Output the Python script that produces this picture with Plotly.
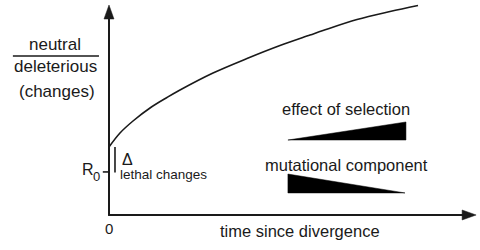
import plotly.graph_objects as go

# ---- data (schematic units: time 0..~120, ratio 0..~100) ----
curve_t = [0, 3.56, 7.77, 13.27, 18.77, 22.98, 33.66, 44.66, 55.34, 65.05, 69.26, 80.26, 90.94, 100]
curve_r = [32.38, 39.05, 44.76, 50.95, 55.95, 59.52, 67.62, 74.52, 80.71, 85.71, 87.86, 93.10, 96.90, 99.76]
R0 = 20.5
x_axis_end = 118.8
y_axis_end = 100.0
selection_x = [57.9, 96.1, 96.1]
selection_y = [35.7, 44.3, 35.7]
mutation_x = [57.9, 57.9, 95.8]
mutation_y = [19.5, 10.5, 10.5]
x_tick_labels = ["0"]

X_RANGE = [-35.27, 120.06]
Y_RANGE = [-16.67, 102.38]
FONT = "Liberation Sans, Arial, Helvetica, sans-serif"
INK = "#1a1a1a"

fig = go.Figure()
fig.add_trace(go.Scatter(x=curve_t, y=curve_r, mode="lines",
                         line=dict(color=INK, width=1.6, shape="spline", smoothing=1.0),
                         hoverinfo="skip"))
fig.add_trace(go.Scatter(x=selection_x + [selection_x[0]], y=selection_y + [selection_y[0]],
                         mode="lines", fill="toself", fillcolor="black",
                         line=dict(color="black", width=0.5), hoverinfo="skip"))
fig.add_trace(go.Scatter(x=mutation_x + [mutation_x[0]], y=mutation_y + [mutation_y[0]],
                         mode="lines", fill="toself", fillcolor="black",
                         line=dict(color="black", width=0.5), hoverinfo="skip"))

shapes = [
    # axes
    dict(type="line", x0=0, y0=0, x1=0, y1=y_axis_end - 3, line=dict(color=INK, width=2)),
    dict(type="line", x0=-0.3, y0=0, x1=x_axis_end - 3, y1=0, line=dict(color=INK, width=2)),
    # arrow heads (pixel sized)
    dict(type="path", xsizemode="pixel", ysizemode="pixel", xanchor=0, yanchor=y_axis_end,
         path="M0,0 L-5,-14 L5,-14 Z", fillcolor=INK, line=dict(color=INK, width=0.5)),
    dict(type="path", xsizemode="pixel", ysizemode="pixel", xanchor=x_axis_end, yanchor=0,
         path="M0,0 L-14,5 L-14,-5 Z", fillcolor=INK, line=dict(color=INK, width=0.5)),
    # R0 tick
    dict(type="line", x0=-2.0, y0=R0, x1=0, y1=R0, line=dict(color=INK, width=1.6)),
    # delta bar
    dict(type="line", x0=1.94, y0=R0 - 0.3, x1=1.94, y1=curve_r[0], line=dict(color=INK, width=1.6)),
    # fraction bar
    dict(type="line", x0=-31.1, y0=75.7, x1=-3.24, y1=75.7, line=dict(color=INK, width=1.4)),
]

def txt(x, y, s, size, xanchor="center"):
    return dict(x=x, y=y, text=s, showarrow=False, xanchor=xanchor, yanchor="middle",
                font=dict(family=FONT, size=size, color=INK))

annotations = [
    txt(-17.5, 81.0, "neutral", 17),
    txt(-17.2, 70.5, "deleterious", 17),
    txt(-16.8, 58.6, "(changes)", 17),
    txt(-6.9, 21.5, "R", 16),
    txt(-3.9, 18.2, "0", 13),
    txt(6.0, 26.2, "Δ", 16),
    txt(3.0, 19.3, "lethal changes", 13.5, xanchor="left"),
    txt(0, -6.5, x_tick_labels[0], 15),
    txt(61.7, -7.4, "time since divergence", 16.5),
    txt(76.7, 50.5, "effect of selection", 16.5),
    txt(76.7, 23.8, "mutational component", 16.5),
]

fig.update_layout(
    width=480, height=250, margin=dict(l=0, r=0, t=0, b=0),
    paper_bgcolor="white", plot_bgcolor="white", showlegend=False,
    xaxis=dict(range=X_RANGE, visible=False, fixedrange=True),
    yaxis=dict(range=Y_RANGE, visible=False, fixedrange=True),
    shapes=shapes, annotations=annotations,
)
fig.write_html("out.html")
